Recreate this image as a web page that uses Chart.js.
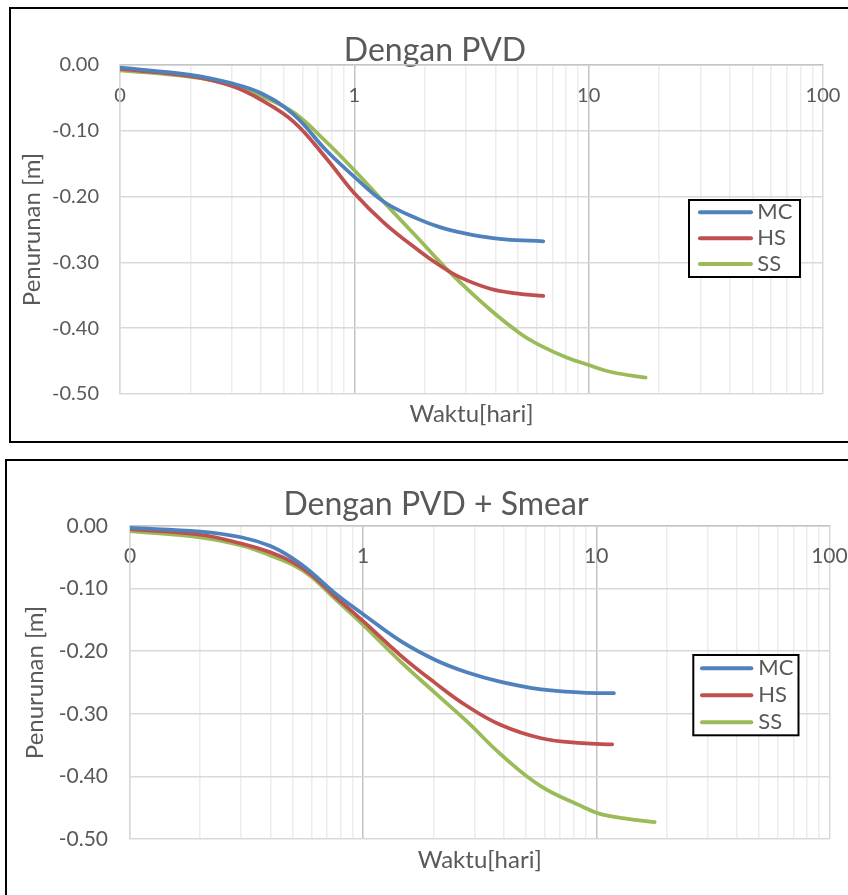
<!DOCTYPE html>
<html>
<head>
<meta charset="utf-8">
<title>Penurunan terhadap Waktu</title>
<script src="https://cdn.jsdelivr.net/npm/chart.js@4.4.1/dist/chart.umd.min.js"></script>
<style>
    html, body { margin: 0; padding: 0; background: #ffffff; overflow: hidden; width: 848px; height: 895px; }
    .frame { position: absolute; border: 2px solid #000000; background: #ffffff; overflow: hidden; }
    #framePvd { left: 9px; top: 7px; width: 848px; height: 432px; }
    #frameSmear { left: 5px; top: 459px; width: 858px; height: 450px; }
    canvas { display: block; }
</style>
</head>
<body>
<div class="frame" id="framePvd"><canvas id="pvdChart" width="848" height="432"></canvas></div>
<div class="frame" id="frameSmear"><canvas id="smearChart" width="858" height="434"></canvas></div>
<script>
// Settlement (Penurunan, m) vs time (Waktu, hari) - log time axis

const seriesNames = ['MC', 'HS', 'SS'];
const seriesColors = ['#4f81bd', '#c0504d', '#9bbb59'];
const decadeTicks = [0.1, 1, 10, 100];
const decadeLabels = ['0', '1', '10', '100'];

// Dengan PVD
const pvdMcTime = [0.1, 0.2, 0.3, 0.4, 0.55, 0.76, 1.0, 1.35, 1.9, 2.3, 2.8, 3.4, 4.4, 6.4];
const pvdMcSettle = [-0.004, -0.015, -0.028, -0.043, -0.075, -0.130, -0.170, -0.209, -0.235, -0.246, -0.254, -0.260, -0.265, -0.268];
const pvdHsTime = [0.1, 0.2, 0.3, 0.4, 0.55, 0.76, 1.0, 1.35, 1.9, 2.3, 2.8, 3.8, 4.9, 6.4];
const pvdHsSettle = [-0.006, -0.017, -0.032, -0.053, -0.086, -0.142, -0.195, -0.241, -0.283, -0.304, -0.322, -0.340, -0.347, -0.351];
const pvdSsTime = [0.1, 0.2, 0.3, 0.4, 0.55, 0.76, 1.0, 1.35, 1.9, 2.3, 2.8, 3.8, 5.1, 6.2, 8.0, 10, 12.6, 17.5];
const pvdSsSettle = [-0.008, -0.018, -0.030, -0.047, -0.072, -0.117, -0.160, -0.210, -0.266, -0.298, -0.329, -0.372, -0.408, -0.426, -0.444, -0.456, -0.467, -0.475];

// Dengan PVD + Smear
const smearMcTime = [0.1, 0.2, 0.3, 0.4, 0.5, 0.6, 0.75, 1.0, 1.45, 2.04, 2.8, 3.9, 5.8, 8.7, 11.9];
const smearMcSettle = [-0.003, -0.009, -0.018, -0.032, -0.052, -0.074, -0.106, -0.141, -0.184, -0.214, -0.234, -0.249, -0.261, -0.266, -0.267];
const smearHsTime = [0.1, 0.2, 0.3, 0.4, 0.5, 0.6, 0.75, 1.0, 1.45, 2.04, 2.8, 3.9, 5.8, 8.7, 11.7];
const smearHsSettle = [-0.005, -0.014, -0.028, -0.042, -0.058, -0.078, -0.111, -0.152, -0.207, -0.251, -0.288, -0.318, -0.339, -0.347, -0.349];
const smearSsTime = [0.1, 0.2, 0.3, 0.4, 0.5, 0.6, 0.75, 1.0, 1.45, 2.04, 2.8, 3.9, 5.8, 8.7, 10.2, 13.2, 17.8];
const smearSsSettle = [-0.008, -0.018, -0.031, -0.047, -0.062, -0.081, -0.115, -0.158, -0.217, -0.267, -0.313, -0.365, -0.416, -0.448, -0.459, -0.467, -0.473];

const FONT = 'Lato, "Liberation Sans", sans-serif';
const TEXT_COLOR = '#595959';

Chart.defaults.font.family = FONT;
Chart.defaults.color = TEXT_COLOR;

// gridline positions of the log axis: 1..9 x each decade
const logGridValues = [];
decadeTicks.slice(0, -1).forEach(d => {
    for (let m = 1; m < 10; m++) logGridValues.push(Number((m * d).toPrecision(6)));
});
logGridValues.push(decadeTicks[decadeTicks.length - 1]);

function toPoints(times, values) {
    return times.map((t, i) => ({ x: t, y: values[i] }));
}

function xGridColor(ctx) {
    const v = ctx.tick ? ctx.tick.value : null;
    if (v === 1 || v === 10) return '#c4c4c4';
    if (v === 0.1 || v === 100) return '#d9d9d9';
    return '#ececec';
}

/**
 * Legend drawn as a framed box inside the plot, like the Excel original
 */
const boxLegendPlugin = {
    id: 'boxLegend',
    afterDraw(chart, args, opts) {
        const ctx = chart.ctx;
        ctx.save();
        ctx.fillStyle = '#ffffff';
        ctx.fillRect(opts.left, opts.top, opts.width, opts.height);
        ctx.strokeStyle = '#000000';
        ctx.lineWidth = 2;
        ctx.strokeRect(opts.left, opts.top, opts.width, opts.height);
        ctx.font = opts.fontSize + 'px ' + FONT;
        ctx.textBaseline = 'middle';
        ctx.textAlign = 'left';
        chart.data.datasets.forEach((ds, i) => {
            const y = opts.firstRow + i * opts.rowGap;
            ctx.strokeStyle = ds.borderColor;
            ctx.lineWidth = 4;
            ctx.lineCap = 'round';
            ctx.beginPath();
            ctx.moveTo(opts.lineStart, y);
            ctx.lineTo(opts.lineEnd, y);
            ctx.stroke();
            ctx.fillStyle = TEXT_COLOR;
            ctx.fillText(ds.label, opts.textX, y);
        });
        ctx.restore();
    }
};

/**
 * Create one settlement chart
 */
function createSettlementChart(canvasId, titleText, series, layout) {
    const ctx = document.getElementById(canvasId);
    if (!ctx) return null;

    return new Chart(ctx, {
        type: 'line',
        data: {
            datasets: series.map((s, i) => ({
                label: seriesNames[i],
                data: toPoints(s[0], s[1]),
                borderColor: seriesColors[i],
                backgroundColor: seriesColors[i],
                borderWidth: 3.75,
                pointRadius: 0,
                fill: false,
                tension: 0.4,
                borderCapStyle: 'round',
                borderJoinStyle: 'round'
            }))
        },
        options: {
            responsive: false,
            animation: false,
            devicePixelRatio: 1,
            layout: { padding: 0 },
            events: [],
            plugins: {
                legend: { display: false },
                tooltip: { enabled: false },
                title: {
                    display: true,
                    text: titleText,
                    color: TEXT_COLOR,
                    font: { size: 32, weight: 'normal' },
                    padding: { top: layout.titleTop, bottom: layout.titleBottom }
                },
                boxLegend: layout.legend
            },
            scales: {
                x: {
                    type: 'logarithmic',
                    position: 'top',
                    min: 0.1,
                    max: 100,
                    afterBuildTicks: scale => {
                        scale.ticks = logGridValues.map(v => ({ value: v, major: decadeTicks.includes(v) }));
                    },
                    afterFit: scale => { scale.height = 0; },
                    grid: { color: xGridColor, lineWidth: 1.5, drawTicks: false },
                    border: { color: '#c4c4c4', width: 1.5 },
                    ticks: {
                        // labels sit under the axis line, inside the plot
                        mirror: true,
                        autoSkip: false,
                        maxRotation: 0,
                        padding: layout.xTickPad,
                        font: { size: layout.tickSize },
                        color: TEXT_COLOR,
                        callback: value => {
                            const i = decadeTicks.indexOf(value);
                            return i >= 0 ? decadeLabels[i] : '';
                        }
                    }
                },
                xTitle: {
                    type: 'linear',
                    position: 'bottom',
                    min: 0,
                    max: 1,
                    grid: { display: false, drawTicks: false },
                    border: { display: false },
                    ticks: { display: false },
                    title: {
                        display: true,
                        text: 'Waktu[hari]',
                        color: TEXT_COLOR,
                        font: { size: 24 },
                        padding: { top: 0, bottom: layout.xTitleBottom }
                    },
                    afterFit: scale => { scale.height = layout.xTitleHeight; }
                },
                y: {
                    position: 'left',
                    min: -0.5,
                    max: 0,
                    afterFit: scale => { scale.width = layout.yWidth; },
                    grid: { color: '#d9d9d9', lineWidth: 1.5, drawTicks: false },
                    border: { color: '#d9d9d9', width: 1.5 },
                    ticks: {
                        stepSize: 0.1,
                        padding: layout.yTickPad,
                        font: { size: layout.tickSize },
                        color: TEXT_COLOR,
                        callback: value => value.toFixed(2)
                    },
                    title: {
                        display: true,
                        text: 'Penurunan [m]',
                        color: TEXT_COLOR,
                        font: { size: 24 },
                        padding: { top: layout.yTitleLeft, bottom: 0 }
                    }
                },
                yRight: {
                    type: 'linear',
                    position: 'right',
                    min: 0,
                    max: 1,
                    grid: { display: false, drawTicks: false },
                    border: { display: false },
                    ticks: { display: false },
                    afterFit: scale => { scale.width = layout.rightSpace; }
                }
            }
        },
        plugins: [boxLegendPlugin]
    });
}

let charts = {};

charts.pvd = createSettlementChart('pvdChart', 'Dengan PVD', [
    [pvdMcTime, pvdMcSettle],
    [pvdHsTime, pvdHsSettle],
    [pvdSsTime, pvdSsSettle]
], {
    titleTop: 22.7, titleBottom: -5.1,
    xTickPad: 18.6, tickSize: 20,
    xTitleBottom: 12, xTitleHeight: 47,
    yWidth: 109, yTickPad: 21, yTitleLeft: 6.5,
    rightSpace: 35,
    legend: { left: 678, top: 191, width: 111, height: 77, firstRow: 203.3, rowGap: 25.85,
              lineStart: 689, lineEnd: 740, textX: 746.3, fontSize: 22 }
});

charts.smear = createSettlementChart('smearChart', 'Dengan PVD + Smear', [
    [smearMcTime, smearMcSettle],
    [smearHsTime, smearHsSettle],
    [smearSsTime, smearSsSettle]
], {
    titleTop: 24.1, titleBottom: 2.5,
    xTickPad: 17.3, tickSize: 21,
    xTitleBottom: 20, xTitleHeight: 56,
    yWidth: 123, yTickPad: 22, yTitleLeft: 13.5,
    rightSpace: 33,
    legend: { left: 686.3, top: 194, width: 105.2, height: 80.3, firstRow: 207.3, rowGap: 27,
              lineStart: 695, lineEnd: 744.3, textX: 751.3, fontSize: 22 }
});
</script>
</body>
</html>
